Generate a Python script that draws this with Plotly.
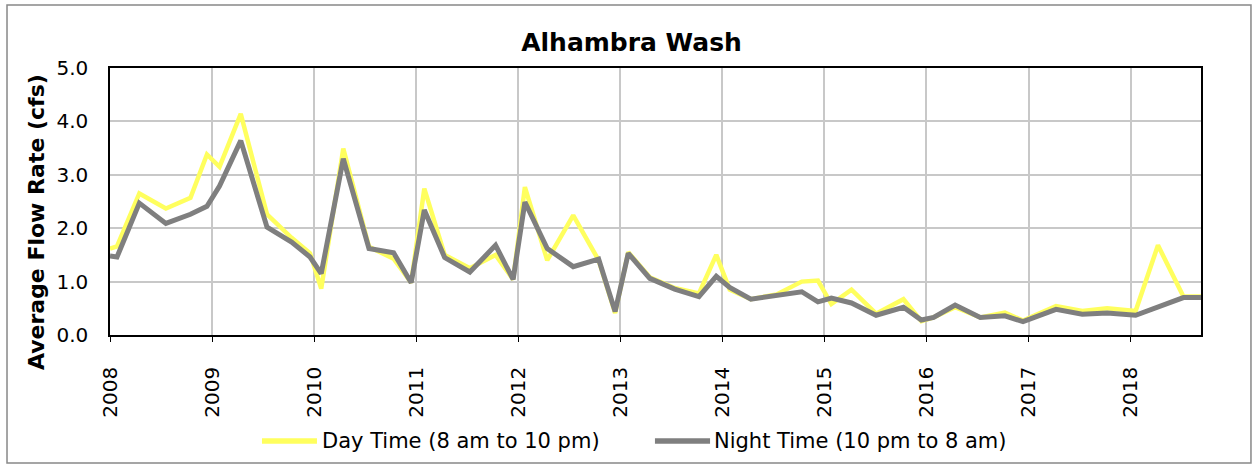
import plotly.graph_objects as go

# Sampling dates and average flow rates (cfs)
dates = [
    "2008-01-01", "2008-01-26", "2008-04-15", "2008-07-19", "2008-10-15", "2008-12-13",
    "2009-01-27", "2009-04-13", "2009-07-16", "2009-10-12", "2009-12-17",
    "2010-01-26", "2010-04-15", "2010-07-16", "2010-10-12", "2010-12-14",
    "2011-01-30", "2011-04-13", "2011-07-12", "2011-10-12", "2011-12-14",
    "2012-01-25", "2012-04-14", "2012-07-16", "2012-10-15", "2012-12-13",
    "2013-01-29", "2013-04-16", "2013-07-14", "2013-10-09", "2013-12-10",
    "2014-01-27", "2014-04-13", "2014-07-14", "2014-10-12", "2014-12-09",
    "2015-01-26", "2015-04-08", "2015-07-05", "2015-10-11", "2015-12-14",
    "2016-01-27", "2016-04-13", "2016-07-12", "2016-10-08", "2016-12-12",
    "2017-04-09", "2017-07-12", "2017-10-09",
    "2018-01-19", "2018-04-09", "2018-07-09", "2018-09-10",
]

day_flow = [
    1.62, 1.66, 2.65, 2.37, 2.57, 3.38,
    3.15, 4.14, 2.26, 1.82, 1.53,
    0.87, 3.49, 1.65, 1.43, 0.98,
    2.74, 1.50, 1.25, 1.50, 1.04,
    2.77, 1.40, 2.24, 1.40, 0.41,
    1.55, 1.08, 0.88, 0.78, 1.50,
    0.85, 0.67, 0.76, 1.00, 1.02,
    0.58, 0.85, 0.40, 0.67, 0.26,
    0.33, 0.52, 0.33, 0.42, 0.27,
    0.54, 0.45, 0.50,
    0.45, 1.68, 0.72, 0.72,
]

night_flow = [
    1.48, 1.46, 2.47, 2.09, 2.26, 2.41,
    2.79, 3.64, 2.02, 1.74, 1.46,
    1.15, 3.30, 1.62, 1.54, 0.98,
    2.34, 1.45, 1.18, 1.68, 1.04,
    2.49, 1.62, 1.28, 1.42, 0.44,
    1.53, 1.06, 0.86, 0.72, 1.10,
    0.89, 0.67, 0.75, 0.81, 0.62,
    0.69, 0.60, 0.37, 0.52, 0.28,
    0.33, 0.56, 0.33, 0.36, 0.25,
    0.48, 0.39, 0.41,
    0.37, 0.52, 0.70, 0.70,
]

series_names = ["Day Time (8 am to 10 pm)", "Night Time (10 pm to 8 am)"]
series_colors = ["#FFFF5E", "#7F7F7F"]
y_ticks = [0.0, 1.0, 2.0, 3.0, 4.0, 5.0]

FONT = "Tahoma, DejaVu Sans, sans-serif"

fig = go.Figure()
fig.add_trace(go.Scatter(
    x=dates, y=day_flow, mode="lines", name=series_names[0],
    line=dict(color=series_colors[0], width=4.5), showlegend=False,
))
fig.add_trace(go.Scatter(
    x=dates, y=night_flow, mode="lines", name=series_names[1],
    line=dict(color=series_colors[1], width=5), showlegend=False,
))

# Outer chart frame
fig.add_shape(
    type="rect", xref="paper", yref="paper",
    x0=-0.0944, x1=1.0458, y0=-0.479, y1=1.236,
    line=dict(color="#888888", width=1.5), fillcolor="rgba(0,0,0,0)",
    layer="below",
)

# Legend below the plot: long line swatch followed by the series name
legend_y = -0.397
legend_items = [(0.1393, 0.1897, 0.1925), (0.4995, 0.5500, 0.5518)]
for (x0, x1, xt), name, color in zip(legend_items, series_names, series_colors):
    fig.add_shape(
        type="line", xref="paper", yref="paper",
        x0=x0, x1=x1, y0=legend_y, y1=legend_y,
        line=dict(color=color, width=5.5),
    )
    fig.add_annotation(
        xref="paper", yref="paper", x=xt, y=legend_y,
        xanchor="left", yanchor="middle", showarrow=False,
        text=name, font=dict(size=21, family=FONT, color="black"),
    )

# Vertical axis title
fig.add_annotation(
    xref="paper", yref="paper", x=-0.0678, y=0.423,
    xanchor="center", yanchor="middle", showarrow=False, textangle=-90,
    text="<b>Average Flow Rate (cfs)</b>", font=dict(size=22, family=FONT, color="black"),
)

fig.update_layout(
    width=1252, height=464,
    margin=dict(l=110, r=51, t=68, b=129),
    paper_bgcolor="white", plot_bgcolor="white",
    font=dict(family=FONT, size=20, color="black"),
    title=dict(
        text="<b>Alhambra Wash</b>", x=0.5044, xanchor="center",
        y=0.91, yanchor="middle", font=dict(size=25, family=FONT),
    ),
    showlegend=False,
    xaxis=dict(
        type="date", range=["2008-01-01", "2018-09-10"],
        tick0="2008-01-01", dtick="M12", tickformat="%Y", tickangle=-90,
        showgrid=True, gridcolor="#C8C8C8", gridwidth=1.5,
        showline=True, linecolor="black", linewidth=1.5, mirror=True,
        ticks="outside", ticklen=5, tickcolor="black",
        tickfont=dict(size=20, family=FONT), ticklabelstandoff=17,
        zeroline=False,
    ),
    yaxis=dict(
        range=[0, 5], tickvals=y_ticks, tickformat=".1f",
        showgrid=True, gridcolor="#C8C8C8", gridwidth=1.5,
        showline=True, linecolor="black", linewidth=1.5, mirror=True,
        ticks="", ticklabelstandoff=16,
        tickfont=dict(size=20, family=FONT),
        zeroline=False,
    ),
)

fig.write_html("out.html")
